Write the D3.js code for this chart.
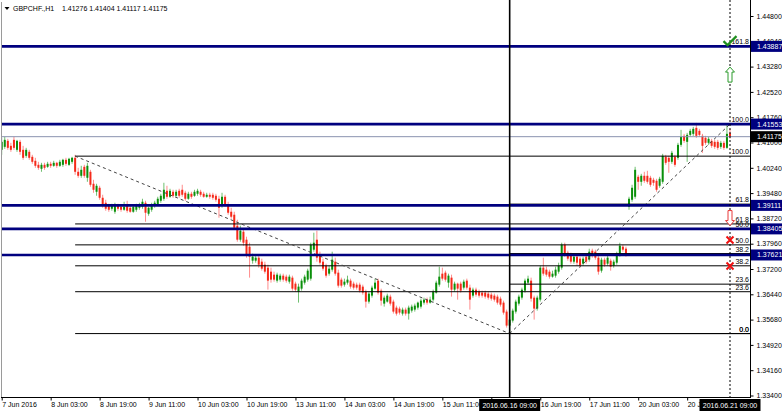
<!DOCTYPE html>
<html><head><meta charset="utf-8">
<script src="https://cdnjs.cloudflare.com/ajax/libs/d3/7.8.5/d3.min.js"></script>
<style>
html,body{margin:0;padding:0;background:#fff;}
svg{display:block;font-family:"Liberation Sans",Arial,sans-serif;}
</style></head><body>
<svg id="chart" width="782" height="411"></svg>
<script>
// ---------------- DATA ----------------
const symbol = "GBPCHF.,H1";
const tradingDays = ["2016.06.07","2016.06.08","2016.06.09","2016.06.10","2016.06.13","2016.06.14","2016.06.15","2016.06.16","2016.06.17","2016.06.20","2016.06.21"];
const firstBarHour = 11, lastBarHour = 9;

const open = [1.4078,1.4087,1.4105,1.4090,1.4108,1.4078,1.4102,1.4078,1.4060,1.4072,
1.4057,1.4045,1.4033,1.4021,1.4033,1.4027,1.4036,1.4030,1.4039,1.4030,
1.4033,1.4048,1.4033,1.4042,1.4054,1.4012,1.4000,1.4027,1.3994,1.4012,
1.3976,1.3952,1.3964,1.3934,1.3919,1.3910,1.3901,1.3892,1.3910,1.3907,
1.3898,1.3913,1.3904,1.3892,1.3898,1.3904,1.3907,1.3919,1.3886,1.3898,
1.3910,1.3913,1.3925,1.3931,1.3955,1.3937,1.3952,1.3940,1.3955,1.3958,
1.3949,1.3931,1.3946,1.3940,1.3946,1.3952,1.3946,1.3937,1.3943,1.3943,
1.3940,1.3931,1.3910,1.3937,1.3913,1.3892,1.3883,1.3850,1.3808,1.3832,
1.3808,1.3787,1.3745,1.3745,1.3754,1.3742,1.3733,1.3724,1.3712,1.3703,
1.3685,1.3688,1.3700,1.3697,1.3682,1.3694,1.3676,1.3652,1.3661,1.3679,
1.3688,1.3691,1.3778,1.3808,1.3763,1.3742,1.3730,1.3706,1.3718,1.3742,
1.3709,1.3688,1.3673,1.3679,1.3685,1.3676,1.3673,1.3673,1.3667,1.3652,
1.3622,1.3640,1.3661,1.3685,1.3655,1.3616,1.3622,1.3637,1.3622,1.3604,
1.3601,1.3586,1.3598,1.3586,1.3595,1.3598,1.3604,1.3607,1.3619,1.3628,
1.3619,1.3628,1.3649,1.3673,1.3706,1.3709,1.3679,1.3694,1.3658,1.3676,
1.3676,1.3664,1.3685,1.3664,1.3640,1.3658,1.3652,1.3649,1.3649,1.3646,
1.3643,1.3640,1.3637,1.3631,1.3619,1.3592,1.3550,1.3565,1.3592,1.3616,
1.3634,1.3655,1.3679,1.3685,1.3634,1.3601,1.3628,1.3724,1.3718,1.3712,
1.3697,1.3700,1.3712,1.3724,1.3793,1.3769,1.3763,1.3742,1.3757,1.3751,
1.3736,1.3757,1.3748,1.3775,1.3772,1.3754,1.3715,1.3748,1.3736,1.3745,
1.3730,1.3739,1.3763,1.3787,1.3781,1.3907,1.3928,1.3937,1.3997,1.3982,
1.4000,1.4000,1.3994,1.3988,1.3985,1.3970,1.3982,1.4057,1.4054,1.4042,
1.4057,1.4054,1.4093,1.4120,1.4102,1.4123,1.4126,1.4144,1.4135,1.4120,
1.4114,1.4099,1.4105,1.4102,1.4102,1.4087,1.4099,1.4084,1.41276];

const high = [1.4114,1.4117,1.4111,1.4099,1.4117,1.4108,1.4108,1.4090,1.4084,1.4078,
1.4063,1.4054,1.4042,1.4039,1.4039,1.4042,1.4042,1.4045,1.4042,1.4048,
1.4051,1.4054,1.4054,1.4057,1.4063,1.4024,1.4030,1.4033,1.4039,1.4018,
1.3988,1.3976,1.3970,1.3943,1.3928,1.3916,1.3916,1.3919,1.3916,1.3913,
1.3922,1.3925,1.3910,1.3913,1.3916,1.3919,1.3931,1.3925,1.3907,1.3919,
1.3925,1.3937,1.3946,1.3979,1.3970,1.3961,1.3958,1.3958,1.3961,1.3973,
1.3955,1.3952,1.3952,1.3958,1.3961,1.3958,1.3952,1.3949,1.3949,1.3949,
1.3946,1.3940,1.3949,1.3943,1.3922,1.3904,1.3892,1.3868,1.3850,1.3838,
1.3817,1.3799,1.3766,1.3763,1.3760,1.3751,1.3742,1.3733,1.3724,1.3712,
1.3709,1.3706,1.3706,1.3703,1.3703,1.3700,1.3682,1.3676,1.3691,1.3703,
1.3721,1.3799,1.3829,1.3835,1.3772,1.3751,1.3736,1.3730,1.3772,1.3754,
1.3718,1.3694,1.3691,1.3700,1.3691,1.3682,1.3679,1.3679,1.3673,1.3658,
1.3652,1.3670,1.3691,1.3691,1.3661,1.3640,1.3646,1.3643,1.3628,1.3610,
1.3607,1.3604,1.3604,1.3610,1.3613,1.3616,1.3622,1.3631,1.3634,1.3634,
1.3637,1.3658,1.3685,1.3727,1.3724,1.3715,1.3706,1.3703,1.3682,1.3679,
1.3682,1.3688,1.3691,1.3673,1.3664,1.3664,1.3658,1.3655,1.3655,1.3652,
1.3649,1.3646,1.3643,1.3637,1.3625,1.3598,1.3577,1.3601,1.3628,1.3643,
1.3664,1.3691,1.3700,1.3694,1.3640,1.3640,1.3730,1.3754,1.3727,1.3718,
1.3715,1.3727,1.3739,1.3799,1.3799,1.3775,1.3769,1.3763,1.3763,1.3757,
1.3757,1.3763,1.3781,1.3781,1.3778,1.3760,1.3754,1.3754,1.3760,1.3751,
1.3748,1.3772,1.3799,1.3793,1.3787,1.3937,1.3973,1.4027,1.4003,1.4006,
1.4012,1.4015,1.4000,1.3994,1.3991,1.3997,1.4066,1.4063,1.4060,1.4075,
1.4063,1.4099,1.4138,1.4126,1.4129,1.4141,1.4147,1.4159,1.4141,1.4126,
1.4120,1.4117,1.4111,1.4108,1.4108,1.4105,1.4105,1.4153,1.41404];

const low = [1.4063,1.4081,1.4078,1.4072,1.4078,1.4072,1.4063,1.4048,1.4054,1.4048,
1.4036,1.4024,1.4018,1.4012,1.4018,1.4024,1.4024,1.4027,1.4024,1.4027,
1.4027,1.4030,1.4030,1.4036,1.4003,1.3994,1.3994,1.3994,1.3982,1.3967,
1.3949,1.3940,1.3928,1.3904,1.3895,1.3892,1.3895,1.3886,1.3895,1.3892,
1.3895,1.3889,1.3889,1.3889,1.3892,1.3898,1.3901,1.3862,1.3880,1.3892,
1.3904,1.3910,1.3919,1.3925,1.3931,1.3934,1.3934,1.3937,1.3934,1.3937,
1.3925,1.3928,1.3931,1.3937,1.3940,1.3937,1.3934,1.3934,1.3931,1.3928,
1.3922,1.3874,1.3904,1.3907,1.3883,1.3871,1.3838,1.3802,1.3802,1.3790,
1.3754,1.3694,1.3736,1.3739,1.3724,1.3715,1.3706,1.3658,1.3679,1.3682,
1.3679,1.3682,1.3682,1.3679,1.3676,1.3655,1.3652,1.3619,1.3655,1.3673,
1.3682,1.3685,1.3772,1.3742,1.3733,1.3715,1.3694,1.3700,1.3712,1.3700,
1.3664,1.3664,1.3667,1.3673,1.3661,1.3658,1.3658,1.3649,1.3643,1.3604,
1.3616,1.3634,1.3658,1.3643,1.3610,1.3607,1.3619,1.3610,1.3586,1.3580,
1.3583,1.3580,1.3580,1.3568,1.3589,1.3592,1.3598,1.3601,1.3613,1.3613,
1.3616,1.3622,1.3646,1.3667,1.3685,1.3682,1.3664,1.3637,1.3652,1.3628,
1.3649,1.3658,1.3658,1.3598,1.3634,1.3637,1.3634,1.3634,1.3631,1.3628,
1.3625,1.3622,1.3613,1.3607,1.3583,1.3544,1.3526,1.3559,1.3586,1.3610,
1.3628,1.3649,1.3673,1.3622,1.3568,1.3595,1.3622,1.3700,1.3697,1.3691,
1.3694,1.3694,1.3706,1.3718,1.3757,1.3745,1.3736,1.3736,1.3730,1.3724,
1.3730,1.3736,1.3742,1.3754,1.3748,1.3703,1.3709,1.3727,1.3730,1.3715,
1.3724,1.3733,1.3757,1.3772,1.3757,1.3898,1.3922,1.3931,1.3958,1.3970,
1.3979,1.3976,1.3967,1.3970,1.3952,1.3964,1.3976,1.4033,1.4009,1.4036,
1.4027,1.4048,1.4087,1.4099,1.4042,1.4117,1.4120,1.4114,1.4117,1.4069,
1.4093,1.4093,1.4084,1.4081,1.4078,1.4081,1.4078,1.4081,1.41117];

const close = [1.4102,1.4108,1.4084,1.4078,1.4084,1.4105,1.4072,1.4054,1.4078,1.4054,
1.4042,1.4030,1.4024,1.4033,1.4024,1.4036,1.4030,1.4039,1.4030,1.4042,
1.4048,1.4036,1.4051,1.4054,1.4012,1.4000,1.4018,1.4000,1.4030,1.3973,
1.3958,1.3970,1.3934,1.3913,1.3901,1.3898,1.3910,1.3913,1.3901,1.3898,
1.3907,1.3895,1.3892,1.3907,1.3910,1.3913,1.3922,1.3889,1.3904,1.3913,
1.3919,1.3931,1.3940,1.3958,1.3937,1.3955,1.3940,1.3952,1.3940,1.3943,
1.3931,1.3946,1.3937,1.3952,1.3955,1.3943,1.3937,1.3943,1.3937,1.3934,
1.3928,1.3904,1.3937,1.3913,1.3889,1.3877,1.3844,1.3808,1.3835,1.3799,
1.3760,1.3757,1.3757,1.3754,1.3733,1.3721,1.3712,1.3685,1.3688,1.3688,
1.3703,1.3700,1.3688,1.3685,1.3697,1.3661,1.3658,1.3667,1.3685,1.3697,
1.3715,1.3793,1.3799,1.3754,1.3739,1.3721,1.3700,1.3721,1.3748,1.3706,
1.3670,1.3670,1.3682,1.3688,1.3667,1.3664,1.3664,1.3655,1.3649,1.3622,
1.3646,1.3664,1.3679,1.3649,1.3625,1.3634,1.3640,1.3616,1.3592,1.3586,
1.3589,1.3598,1.3586,1.3604,1.3607,1.3610,1.3619,1.3625,1.3628,1.3619,
1.3628,1.3652,1.3679,1.3697,1.3691,1.3688,1.3700,1.3658,1.3676,1.3661,
1.3655,1.3682,1.3664,1.3628,1.3658,1.3643,1.3640,1.3640,1.3637,1.3634,
1.3631,1.3628,1.3619,1.3613,1.3589,1.3550,1.3568,1.3595,1.3622,1.3637,
1.3658,1.3685,1.3691,1.3631,1.3601,1.3634,1.3724,1.3706,1.3703,1.3697,
1.3706,1.3718,1.3730,1.3793,1.3763,1.3751,1.3742,1.3757,1.3739,1.3730,
1.3751,1.3742,1.3772,1.3760,1.3754,1.3712,1.3748,1.3733,1.3754,1.3727,
1.3742,1.3766,1.3790,1.3778,1.3763,1.3931,1.3964,1.4018,1.3982,1.4000,
1.3985,1.3982,1.3973,1.3979,1.3958,1.3991,1.4060,1.4039,1.4042,1.4069,
1.4033,1.4093,1.4117,1.4105,1.4123,1.4135,1.4141,1.4120,1.4123,1.4090,
1.4099,1.4111,1.4090,1.4087,1.4084,1.4099,1.4084,1.4126,1.41175];

const priceTicks = [1.44800,1.44040,1.43280,1.42520,1.41760,1.41000,1.40240,1.39480,1.38720,1.37960,1.37200,1.36440,1.35680,1.34920,1.34160,1.33400];
const tickTimes  = ["2016.06.07 11:00","2016.06.08 03:00","2016.06.08 19:00","2016.06.09 11:00","2016.06.10 03:00","2016.06.10 19:00","2016.06.13 11:00","2016.06.14 03:00","2016.06.14 19:00","2016.06.15 11:00","2016.06.16 03:00","2016.06.16 19:00","2016.06.17 11:00","2016.06.20 03:00","2016.06.20 19:00"];
const tickLabels = ["7 Jun 2016","8 Jun 03:00","8 Jun 19:00","9 Jun 11:00","10 Jun 03:00","10 Jun 19:00","13 Jun 11:00","14 Jun 03:00","14 Jun 19:00","15 Jun 11:00","16 Jun 03:00","16 Jun 19:00","17 Jun 11:00","20 Jun 03:00","20 Jun 19:00"];

const levelPrices = [1.43887,1.41553,1.39111,1.38405,1.37621];
const bidPrice = 1.41175;
const markerTimes = ["2016.06.16 09:00","2016.06.21 09:00"];

const fibRatios = [0,23.6,38.2,50,61.8,100,161.8];
const fibATimes = ["2016.06.08 11:00","2016.06.16 09:00"];
const fibAPrices = [1.4059,1.3526];   // 100% , 0%
const fibBTimes = ["2016.06.16 09:00","2016.06.21 09:00"];
const fibBPrices = [1.3526,1.41553];  // 0% , 100%

const signalTypes  = ["check","up","down","cross","cross"];
const signalPrices = [1.4403,1.4304,1.3873,1.3807,1.3729];

// ---------------- BUILD ----------------
const times = [];
tradingDays.forEach((d,k)=>{
  const h0 = k===0 ? firstBarHour : 0;
  const h1 = k===tradingDays.length-1 ? lastBarHour : 23;
  for(let h=h0; h<=h1; h++) times.push(d+" "+String(h).padStart(2,"0")+":00");
});
const bars = times.map((t,i)=>({i,t,o:open[i],h:high[i],l:low[i],c:close[i]}));
const idx = t => times.indexOf(t);
const last = bars.length-1;

const svg = d3.select("#chart");
const P = {left:2, right:750, top:0, bottom:397};
const x = d3.scaleLinear().domain([0,last]).range([1.7,730]);
const y = d3.scaleLinear().domain([1.334,1.448]).range([395.5,16]);
const FS = 7;

svg.append("rect").attr("width",782).attr("height",411).attr("fill","#fff");
svg.append("defs").append("clipPath").attr("id","clip")
  .append("rect").attr("x",P.left).attr("y",P.top).attr("width",P.right-P.left).attr("height",P.bottom-P.top);

const plot = svg.append("g").attr("clip-path","url(#clip)");

// candles
const cg = plot.append("g");
cg.selectAll("line.wick").data(bars).join("line").attr("class","wick")
  .attr("x1",d=>x(d.i)).attr("x2",d=>x(d.i))
  .attr("y1",d=>y(d.h)).attr("y2",d=>y(d.l))
  .attr("stroke",d=>d.c>=d.o?"#6fbf6f":"#ff8c8c").attr("stroke-width",1);
cg.selectAll("rect.body").data(bars).join("rect").attr("class","body")
  .attr("x",d=>x(d.i)-1).attr("width",2)
  .attr("y",d=>y(Math.max(d.o,d.c)))
  .attr("height",d=>Math.max(1,Math.abs(y(d.o)-y(d.c))))
  .attr("fill",d=>d.c>=d.o?"#0a8f0a":"#f52a1a");

// fib levels
function fibo(tms, prices, zeroIdx){
  const p0 = prices[zeroIdx], p100 = prices[1-zeroIdx];
  const xStart = x(Math.min(idx(tms[0]),idx(tms[1])));
  const g = plot.append("g");
  fibRatios.forEach(r=>{
    const p = p0 + r/100*(p100-p0);
    if(y(p) < P.top + 8 || y(p) > P.bottom) return;
    g.append("line").attr("x1",xStart).attr("x2",P.right).attr("y1",y(p)).attr("y2",y(p))
      .attr("stroke","#000").attr("stroke-width",1);
    g.append("text").attr("x",P.right-1).attr("y",y(p)-2).attr("text-anchor","end")
      .attr("font-size",FS).attr("fill","#000").text(r.toFixed(1));
  });
  g.append("line").attr("x1",x(idx(tms[0]))).attr("y1",y(prices[0]))
    .attr("x2",x(idx(tms[1]))).attr("y2",y(prices[1]))
    .attr("stroke","#444").attr("stroke-width",1).attr("stroke-dasharray","3,3");
}
fibo(fibATimes, fibAPrices, 1);
fibo(fibBTimes, fibBPrices, 0);

// bid line
plot.append("line").attr("x1",P.left).attr("x2",P.right).attr("y1",y(bidPrice)).attr("y2",y(bidPrice))
  .attr("stroke","#8a93b0").attr("stroke-width",1);

// horizontal blue levels
plot.selectAll("line.lvl").data(levelPrices).join("line").attr("class","lvl")
  .attr("x1",P.left).attr("x2",P.right).attr("y1",d=>y(d)).attr("y2",d=>y(d))
  .attr("stroke","#00007f").attr("stroke-width",2.6);

// vertical markers
plot.append("line").attr("x1",x(idx(markerTimes[0]))).attr("x2",x(idx(markerTimes[0])))
  .attr("y1",P.top).attr("y2",P.bottom).attr("stroke","#000").attr("stroke-width",1.6);
plot.append("line").attr("x1",x(idx(markerTimes[1]))).attr("x2",x(idx(markerTimes[1])))
  .attr("y1",P.top).attr("y2",P.bottom).attr("stroke","#000").attr("stroke-width",1).attr("stroke-dasharray","2,2");

// signals
const sx = x(last);
signalTypes.forEach((t,k)=>{
  const g = plot.append("g").attr("transform",`translate(${sx},${y(signalPrices[k])})`);
  if(t==="check"){
    g.append("path").attr("d","M-6.5,-0.5 L-2.5,3.5 L6.5,-5.5").attr("fill","none")
      .attr("stroke","#1f8f1f").attr("stroke-width",2.2);
  } else if(t==="up"){
    g.append("path").attr("d","M0,-7.5 L4.5,-2.5 L2,-2.5 L2,7.5 L-2,7.5 L-2,-2.5 L-4.5,-2.5 Z")
      .attr("fill","#fff").attr("stroke","#2a9a2a").attr("stroke-width",1);
  } else if(t==="down"){
    g.append("path").attr("d","M0,7.5 L4.5,2.5 L2,2.5 L2,-7.5 L-2,-7.5 L-2,2.5 L-4.5,2.5 Z")
      .attr("fill","#fff").attr("stroke","#e83a3a").attr("stroke-width",1);
  } else {
    g.append("path").attr("d","M-3.5,-3.5 L3.5,3.5 M3.5,-3.5 L-3.5,3.5").attr("fill","none")
      .attr("stroke","#f01010").attr("stroke-width",2);
  }
});

// frame
svg.append("line").attr("x1",P.left-0.5).attr("x2",P.left-0.5).attr("y1",2).attr("y2",P.bottom).attr("stroke","#9a9a9a");
svg.append("line").attr("x1",P.right+0.5).attr("x2",P.right+0.5).attr("y1",0).attr("y2",P.bottom).attr("stroke","#000");
svg.append("line").attr("x1",P.left-1).attr("x2",P.right+1).attr("y1",P.bottom+0.5).attr("y2",P.bottom+0.5).attr("stroke","#000");

// right axis
const ay = svg.append("g").attr("transform",`translate(${P.right+0.5},0)`)
  .call(d3.axisRight(y).tickValues(priceTicks).tickSize(3).tickSizeOuter(0).tickPadding(3).tickFormat(d3.format(".5f")));
ay.select(".domain").remove();
ay.selectAll("text").attr("font-size",FS).attr("font-family","Liberation Sans, Arial, sans-serif").attr("fill","#000");
ay.selectAll("line").attr("stroke","#000");

// bottom axis
const tickIdx = tickTimes.map(idx);
const ax = svg.append("g").attr("transform",`translate(0,${P.bottom+0.5})`)
  .call(d3.axisBottom(x).tickValues(tickIdx).tickSize(3).tickSizeOuter(0).tickPadding(2)
    .tickFormat((d,k)=>tickLabels[k]));
ax.select(".domain").remove();
ax.selectAll("text").attr("font-size",FS).attr("text-anchor","start").attr("font-family","Liberation Sans, Arial, sans-serif").attr("fill","#000");
ax.selectAll("line").attr("stroke","#000");

// price boxes
const fmt = d3.format(".5f");
function priceBox(p, fill){
  const g = svg.append("g").attr("transform",`translate(${P.right+1},${y(p)})`);
  g.append("rect").attr("x",0).attr("y",-5.5).attr("width",31).attr("height",11).attr("fill",fill);
  g.append("text").attr("x",6).attr("y",2.5).attr("font-size",FS).attr("fill","#fff").text(fmt(p));
}
levelPrices.forEach(p=>priceBox(p,"#00007f"));
priceBox(bidPrice,"#000");

// time boxes
markerTimes.forEach(t=>{
  const cx = x(idx(t));
  const g = svg.append("g").attr("transform",`translate(${cx},${P.bottom+2})`);
  g.append("rect").attr("x",-30.5).attr("y",0).attr("width",61).attr("height",12).attr("fill","#000");
  g.append("text").attr("x",0).attr("y",9).attr("text-anchor","middle").attr("font-size",FS).attr("fill","#fff").text(t);
});

// header
svg.append("path").attr("d","M4.5,7 L9.5,7 L7,10 Z").attr("fill","#000");
svg.append("text").attr("x",13).attr("y",11).attr("font-size",FS).attr("fill","#000").text(symbol);
svg.append("text").attr("x",62).attr("y",11).attr("font-size",FS).attr("fill","#000")
  .text([open[last],high[last],low[last],close[last]].map(fmt).join(" "));
</script>
</body></html>
